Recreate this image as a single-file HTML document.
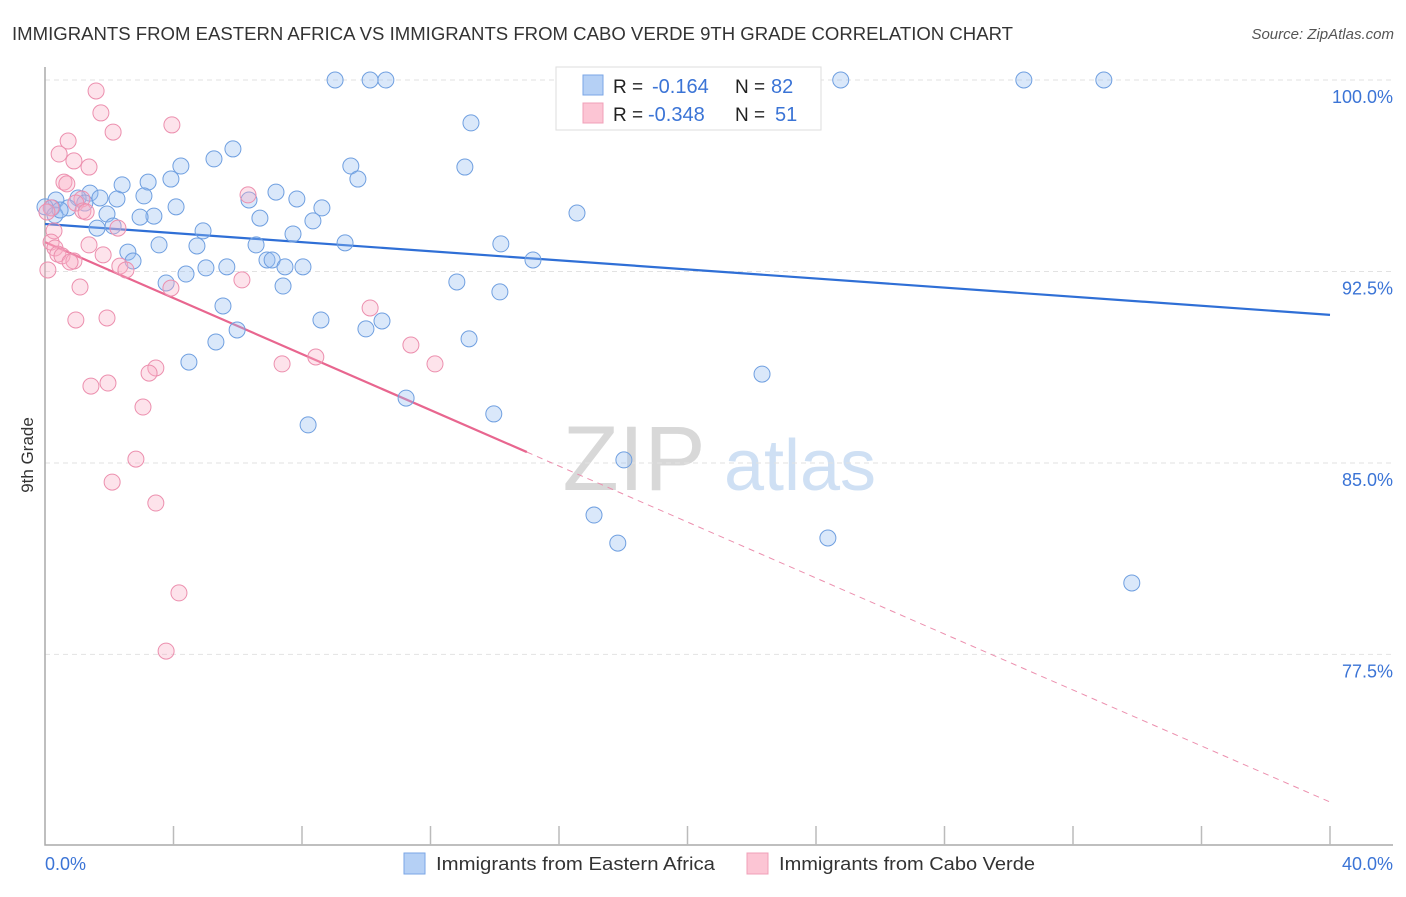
<!DOCTYPE html>
<html><head><meta charset="utf-8"><style>
body{margin:0;background:#fff;font-family:"Liberation Sans",sans-serif}
svg text{font-family:"Liberation Sans",sans-serif}
</style></head><body>
<svg id="chart" width="1406" height="892" xmlns="http://www.w3.org/2000/svg">
<text x="12" y="40" font-size="18" fill="#333" textLength="1001" lengthAdjust="spacingAndGlyphs">IMMIGRANTS FROM EASTERN AFRICA VS IMMIGRANTS FROM CABO VERDE 9TH GRADE CORRELATION CHART</text>
<text x="1394" y="39" font-size="15" fill="#555" text-anchor="end" font-style="italic">Source: ZipAtlas.com</text>
<text transform="translate(33,455) rotate(-90)" font-size="17" fill="#333" text-anchor="middle">9th Grade</text>
<g><text x="634" y="490" font-size="92" fill="#d8d8d8" text-anchor="middle" font-family="Liberation Serif">ZIP</text><text x="800" y="490" font-size="72" fill="#cfe0f4" text-anchor="middle">atlas</text></g>
<g id="grid"></g><g id="axes"></g><g id="lines"></g><g id="pts"></g>
<g>
<rect x="556" y="67" width="265" height="63" fill="#fff" stroke="#ddd"/>
<rect x="583" y="75" width="20" height="20" fill="#b5d0f5" stroke="#7aa6e6"/>
<rect x="583" y="103" width="20" height="20" fill="#fcc5d4" stroke="#f0a0b8"/>
<text x="613" y="93" font-size="19" fill="#222">R =</text>
<text x="652" y="93" font-size="20" fill="#3b74d6">-0.164</text>
<text x="735" y="93" font-size="19" fill="#222">N =</text>
<text x="771" y="93" font-size="20" fill="#3b74d6">82</text>
<text x="613" y="121" font-size="19" fill="#222">R =</text>
<text x="648" y="121" font-size="20" fill="#3b74d6">-0.348</text>
<text x="735" y="121" font-size="19" fill="#222">N =</text>
<text x="775" y="121" font-size="20" fill="#3b74d6">51</text>
</g>
<g>
<rect x="404" y="853" width="21" height="21" fill="#b5d0f5" stroke="#7aa6e6"/>
<text x="436" y="870" font-size="18" fill="#333" textLength="279" lengthAdjust="spacingAndGlyphs">Immigrants from Eastern Africa</text>
<rect x="747" y="853" width="21" height="21" fill="#fcc5d4" stroke="#f0a0b8"/>
<text x="779" y="870" font-size="18" fill="#333" textLength="256" lengthAdjust="spacingAndGlyphs">Immigrants from Cabo Verde</text>
</g>
</svg>
<script>
const yTicks=[100,92.5,85,77.5];
const yTickLabels=["100.0%","92.5%","85.0%","77.5%"];
const xTicks=[0,4,8,12,16,20,24,28,32,36,40];
const blueX=[9.03,10.12,10.61,17.34,23.25,24.77,30.47,32.96,13.26,5.85,5.26,4.23,9.52,13.07,9.74,3.92,3.21,2.40,1.40,7.19,3.08,1.71,2.24,6.35,7.84,1.03,0.34,0.22,0.72,4.08,8.62,1.93,3.39,2.96,6.69,8.34,16.56,1.62,2.12,4.92,7.72,9.34,14.19,3.55,4.73,6.57,2.58,2.74,6.91,7.07,15.19,5.01,5.66,7.47,8.03,4.39,12.82,3.77,7.41,14.16,5.54,8.59,10.49,9.99,5.98,5.32,13.20,4.48,22.32,11.24,13.97,8.19,18.02,17.09,17.83,24.37,33.83,0,0.31,0.47,1.24];
const blueY=[100,100,100,100,100,100,100,100,98.32,97.30,96.91,96.63,96.63,96.59,96.12,96.12,96.00,95.89,95.57,95.61,95.46,95.38,95.34,95.30,95.34,95.38,95.30,94.99,94.99,95.03,94.99,94.75,94.67,94.63,94.59,94.48,94.79,94.20,94.28,94.09,93.97,93.62,93.58,93.54,93.50,93.54,93.26,92.91,92.95,92.95,92.95,92.64,92.68,92.68,92.68,92.40,92.09,92.05,91.93,91.70,91.15,90.60,90.56,90.25,90.21,89.74,89.86,88.95,88.48,87.54,86.92,86.49,85.12,82.96,81.86,82.06,80.30,95.03,94.71,94.91,95.18];
const pinkX=[1.59,1.74,2.12,3.95,0.72,0.44,0.90,1.37,0.59,0.68,6.32,1.15,0.96,1.18,1.28,2.27,0.28,0.19,0.31,0.40,0.53,0.90,0.78,1.37,1.81,2.33,2.52,0.09,1.09,3.92,6.13,0.96,1.93,10.12,11.39,8.43,7.38,12.14,3.45,3.24,1.43,1.96,3.05,2.83,2.09,3.45,4.17,3.77,0.19,0.06];
const pinkY=[99.57,98.71,97.96,98.24,97.61,97.10,96.83,96.59,96.00,95.93,95.50,95.34,95.18,94.87,94.83,94.20,94.09,93.65,93.42,93.18,93.11,92.91,92.87,93.54,93.15,92.71,92.56,92.56,91.89,91.85,92.17,90.60,90.68,91.07,89.62,89.15,88.88,88.88,88.72,88.52,88.01,88.13,87.19,85.15,84.25,83.43,79.91,77.63,94.99,94.83];
const blueTrend=[94.36,90.80];
const pinkTrend=[93.65,71.72];
const pinkSolidEnd=15.0;

const NS="http://www.w3.org/2000/svg";
const X=v=>45+v*32.125, Y=v=>80+(100-v)*25.53;
function mk(p,t,a){const e=document.createElementNS(NS,t);for(const k in a)e.setAttribute(k,a[k]);document.getElementById(p).appendChild(e);return e;}
yTicks.forEach((t,i)=>{
 const l=mk('grid','line',{x1:45,x2:1393,y1:Y(t),y2:Y(t),stroke:'#e2e2e2','stroke-dasharray':'5,4'});
 
 
 const tx=mk('grid','text',{x:1393,y:Y(t)+23,'font-size':18,fill:'#3b74d6','text-anchor':'end'});
 tx.textContent=yTickLabels[i];
 
 
});
const ax=mk('axes','path',{d:'M45,67 V845 H1393',fill:'none',stroke:'#aaa','stroke-width':1.5});


xTicks.forEach(t=>{if(t===0)return;
 const l=mk('axes','line',{x1:X(t),x2:X(t),y1:826,y2:845,stroke:'#bbb','stroke-width':1.5});
 
 
});
const xl0=mk('axes','text',{x:45,y:870,'font-size':18,fill:'#3b74d6'});xl0.textContent='0.0%';


const xl1=mk('axes','text',{x:1393,y:870,'font-size':18,fill:'#3b74d6','text-anchor':'end'});xl1.textContent='40.0%';



blueX.forEach((x,i)=>{const c=mk('pts','circle',{cx:X(x),cy:Y(blueY[i]),r:8,fill:'rgba(150,188,240,0.35)',stroke:'#6f9fe0','stroke-width':1});
 
 });
pinkX.forEach((x,i)=>{const c=mk('pts','circle',{cx:X(x),cy:Y(pinkY[i]),r:8,fill:'rgba(248,176,198,0.35)',stroke:'#ec8fae','stroke-width':1});
 
 });

const bl=mk('lines','line',{x1:X(0),y1:Y(blueTrend[0]),x2:X(40),y2:Y(blueTrend[1]),stroke:'#2f6fd6','stroke-width':2.2});


const pe=pinkTrend[0]+(pinkTrend[1]-pinkTrend[0])*pinkSolidEnd/40;
const pl=mk('lines','line',{x1:X(0),y1:Y(pinkTrend[0]),x2:X(pinkSolidEnd),y2:Y(pe),stroke:'#e8668f','stroke-width':2.2});


const pd=mk('lines','line',{x1:X(pinkSolidEnd),y1:Y(pe),x2:X(40),y2:Y(pinkTrend[1]),stroke:'#ec8fae','stroke-width':1,'stroke-dasharray':'6,5'});


</script>
</body></html>
